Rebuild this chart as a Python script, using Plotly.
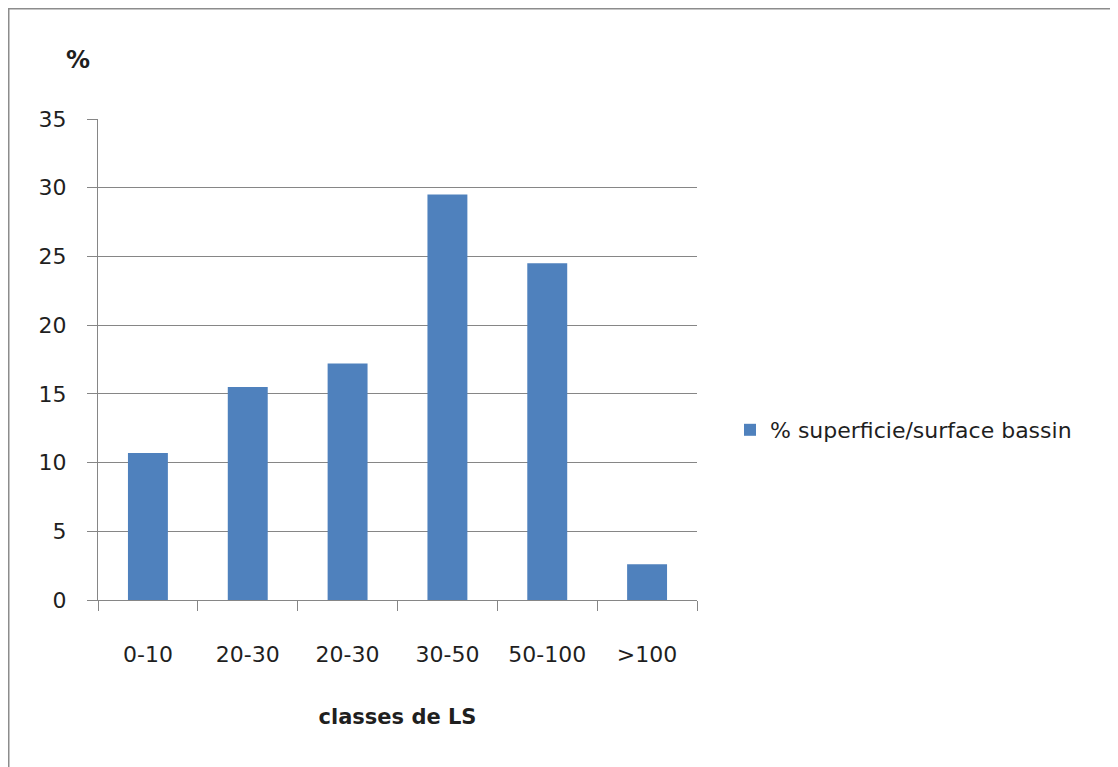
import plotly.graph_objects as go

categories = ["0-10", "20-30", "20-30", "30-50", "50-100", ">100"]
values = [10.7, 15.5, 17.2, 29.5, 24.5, 2.6]
series_name = "% superficie/surface bassin"
y_ticks = [0, 5, 10, 15, 20, 25, 30, 35]

positions = list(range(len(categories)))

fig = go.Figure()
fig.add_trace(go.Bar(
    x=positions, y=values, name=series_name, width=0.4,
    marker=dict(color="#4F81BD", line=dict(width=0)),
    showlegend=True,
))

OFF = 8  # page body margin
W, H = 1118 - OFF, 767 - OFF
L, R, T, B = 98, 697, 119, 600  # page pixel positions of the plot area
fnt = "DejaVu Sans, sans-serif"
tc = "#1f1f1f"

def px(x):
    return (x - L) / (R - L)

def py(y):
    return (B - y) / (B - T)

fig.update_layout(
    width=W, height=H,
    margin=dict(l=L - OFF, r=1118 - R, t=T - OFF, b=767 - B, pad=0),
    plot_bgcolor="white", paper_bgcolor="white",
    font=dict(family=fnt, size=22, color=tc),
    legend=dict(x=px(730), y=py(430), xanchor="left", yanchor="middle",
                font=dict(size=22, color=tc), itemwidth=30,
                bgcolor="rgba(0,0,0,0)"),
    xaxis=dict(
        range=[-0.5, len(categories) - 0.5],
        tickvals=positions, ticktext=categories,
        ticks="", showgrid=False, zeroline=False,
        showline=True, linecolor="#868686", linewidth=1,
        ticklabelstandoff=35,
        tickfont=dict(size=22, color=tc),
        minor=dict(tickvals=[p - 0.5 for p in positions] + [len(categories) - 0.5],
                   ticks="outside", ticklen=10, tickcolor="#868686", tickwidth=1,
                   showgrid=False),
        title=dict(text="<b>classes de LS</b>", font=dict(size=21, color=tc), standoff=42),
    ),
    yaxis=dict(
        range=[0, 35], tickvals=y_ticks,
        ticks="outside", ticklen=10, tickcolor="#868686", tickwidth=1,
        showgrid=True, gridcolor="#868686", gridwidth=1,
        zeroline=False, showline=True, linecolor="#868686", linewidth=1,
        ticklabelstandoff=16,
        tickfont=dict(size=22, color=tc),
    ),
    annotations=[dict(text="<b>%</b>", xref="paper", yref="paper",
                      x=px(78), y=py(60), xanchor="center", yanchor="middle",
                      showarrow=False, font=dict(size=24, color=tc))],
    shapes=[
        dict(type="line", xref="paper", yref="paper", x0=px(8), x1=px(1130),
             y0=py(8), y1=py(8), line=dict(color="#8c8c8c", width=3)),
        dict(type="line", xref="paper", yref="paper", x0=px(8), x1=px(8),
             y0=py(8), y1=py(780), line=dict(color="#8c8c8c", width=3)),
    ],
)

fig.write_html("out.html")
